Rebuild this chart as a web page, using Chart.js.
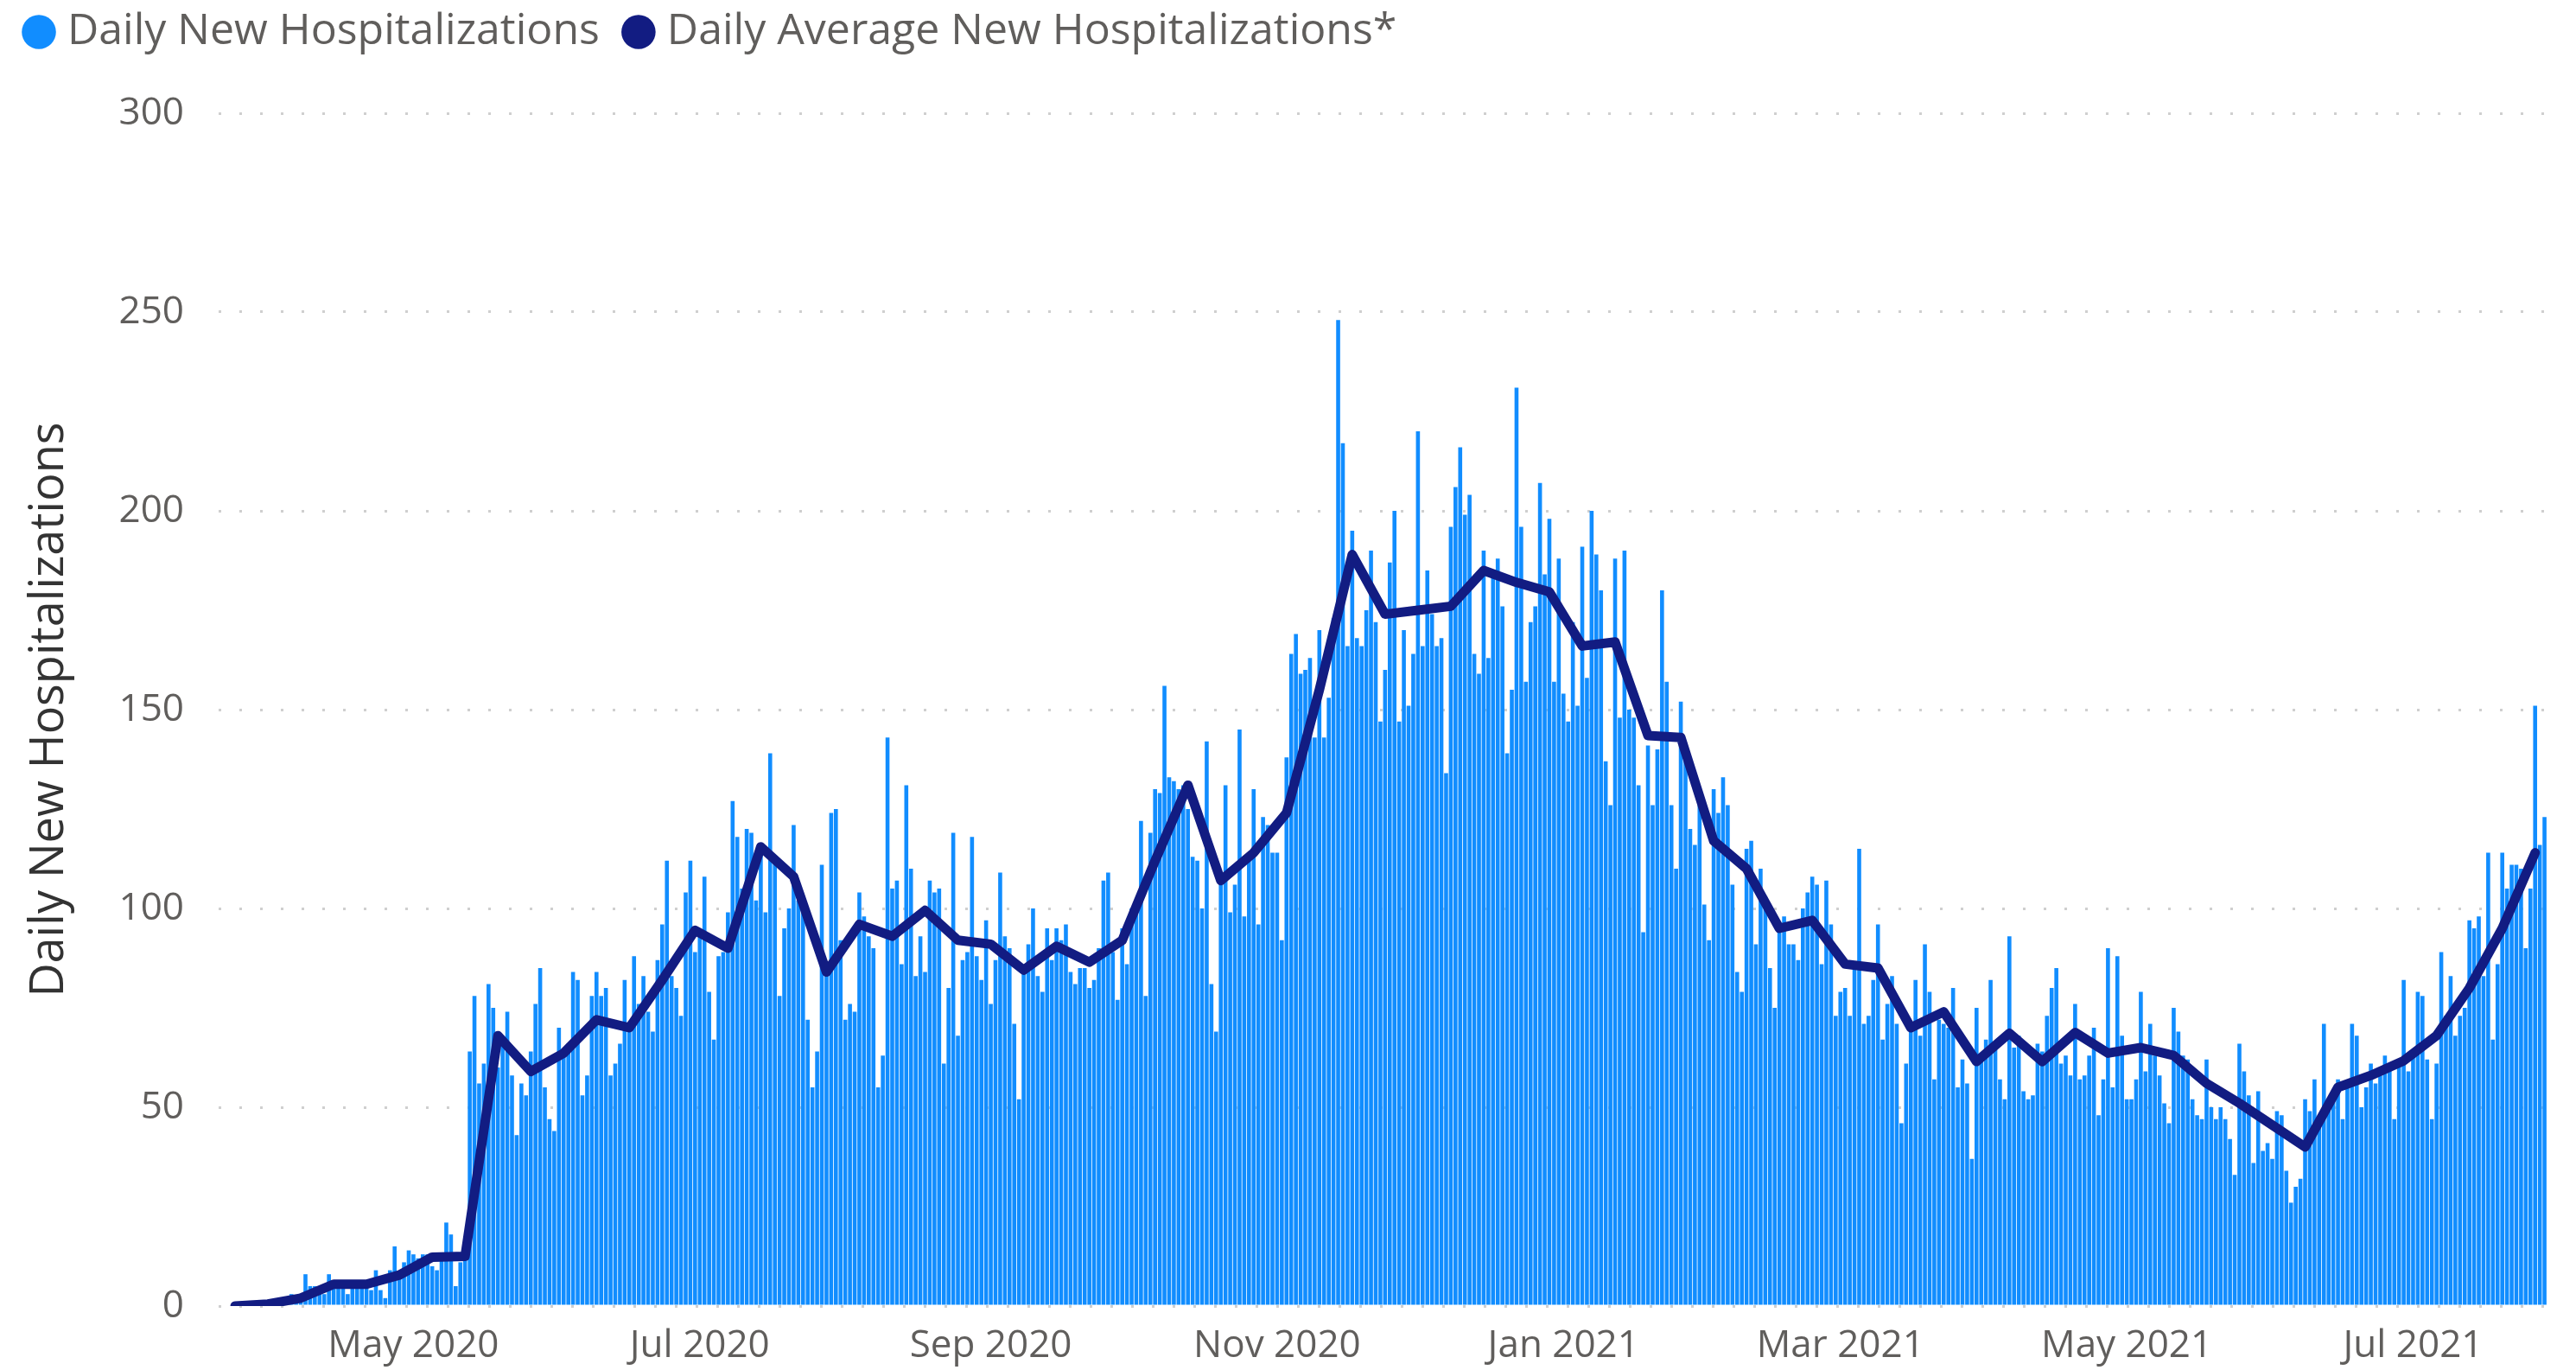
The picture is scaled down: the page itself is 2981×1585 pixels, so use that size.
<!DOCTYPE html>
<html lang="en">
<head>
  <meta charset="UTF-8">
  <title>Daily New Hospitalizations</title>
  <script src="https://cdn.jsdelivr.net/npm/chart.js"></script>
  <style>
    body { margin: 0; background: #fff; }
  </style>
</head>
<body>
  <canvas id="hospChart" width="2981" height="1585"></canvas>

  <script>
    // first day on the chart
    const startDate = '2020-03-24';

    // daily new hospitalizations, one value per day from startDate
    const dailyNew = [
      0, 0, 0, 0, 0, 0, 1,
      1, 0, 1, 0, 1, 3, 2,
      2, 8, 5, 5, 4, 3, 8,
      6, 6, 5, 3, 5, 6, 5,
      6, 4, 9, 4, 2, 9, 15,
      8, 11, 14, 13, 12, 13, 13,
      10, 9, 13, 21, 18, 5, 11,
      12, 64, 78, 56, 61, 81, 75,
      60, 66, 74, 58, 43, 56, 53,
      64, 76, 85, 55, 47, 44, 70,
      64, 66, 84, 82, 53, 58, 78,
      84, 78, 80, 58, 61, 66, 82,
      70, 88, 76, 83, 74, 69, 87,
      96, 112, 83, 80, 73, 104, 112,
      89, 93, 108, 79, 67, 88, 89,
      99, 127, 118, 105, 120, 119, 102,
      115, 99, 139, 113, 78, 95, 100,
      121, 102, 100, 72, 55, 64, 111,
      85, 124, 125, 92, 72, 76, 74,
      104, 98, 93, 90, 55, 63, 143,
      105, 107, 86, 131, 110, 83, 93,
      84, 107, 104, 105, 61, 80, 119,
      68, 87, 89, 118, 88, 82, 97,
      76, 87, 109, 93, 90, 71, 52,
      85, 91, 100, 83, 79, 95, 87,
      95, 92, 96, 84, 81, 85, 85,
      80, 82, 90, 107, 109, 89, 77,
      95, 86, 100, 102, 122, 78, 119,
      130, 129, 156, 133, 132, 130, 131,
      125, 113, 112, 100, 142, 81, 69,
      106, 131, 99, 106, 145, 98, 114,
      130, 96, 123, 121, 114, 114, 92,
      138, 164, 169, 159, 160, 163, 143,
      170, 143, 153, 173, 248, 217, 166,
      195, 168, 166, 175, 190, 172, 147,
      160, 187, 200, 147, 170, 151, 164,
      220, 166, 185, 174, 166, 168, 134,
      196, 206, 216, 199, 204, 164, 159,
      190, 163, 184, 188, 176, 139, 155,
      231, 196, 157, 172, 176, 207, 184,
      198, 157, 188, 154, 147, 172, 151,
      191, 158, 200, 189, 180, 137, 126,
      188, 148, 190, 150, 148, 131, 94,
      141, 126, 140, 180, 157, 126, 110,
      152, 137, 120, 116, 126, 101, 92,
      130, 124, 133, 126, 106, 84, 79,
      115, 117, 91, 110, 103, 85, 75,
      95, 98, 91, 91, 87, 100, 104,
      108, 106, 86, 107, 96, 73, 79,
      80, 73, 86, 115, 71, 73, 82,
      96, 67, 76, 83, 71, 46, 61,
      71, 82, 68, 91, 79, 57, 72,
      71, 70, 80, 55, 62, 56, 37,
      75, 62, 67, 82, 66, 57, 52,
      93, 65, 68, 54, 52, 53, 66,
      64, 73, 80, 85, 61, 63, 58,
      76, 57, 58, 63, 70, 48, 57,
      90, 55, 88, 68, 52, 52, 57,
      79, 59, 71, 63, 58, 51, 46,
      75, 69, 63, 62, 52, 48, 47,
      62, 50, 47, 50, 47, 42, 33,
      66, 59, 53, 36, 54, 39, 41,
      37, 49, 48, 34, 26, 30, 32,
      52, 49, 57, 47, 71, 50, 52,
      57, 47, 55, 71, 68, 50, 55,
      61, 56, 58, 63, 60, 47, 61,
      82, 59, 63, 79, 78, 62, 47,
      61, 89, 73, 83, 68, 73, 75,
      97, 95, 98, 83, 114, 67, 86,
      114, 105, 111, 111, 110, 90, 105,
      151, 116, 123
    ];

    // average line, one point every 7 days from startDate
    const averageStep = 7;
    const weeklyAverage = [
      0, 0.5, 2, 5.5, 5.5, 7.8, 12.3, 12.5, 68, 59,
      63.6, 72, 70, 82, 94.5, 90, 115.5, 108, 84, 96,
      93, 99.5, 92, 91, 84.5, 90.5, 86.5, 92, 112, 131,
      107, 114, 124, 155, 189, 174, 175, 176, 185, 182,
      179.6, 166, 167, 143.5, 143, 117, 110, 95, 97, 86,
      85, 70, 74, 61.5, 68.6, 61.5, 68.8, 63.6, 65, 63,
      56, 51, 45.5, 40, 55, 58, 61.7, 68, 80, 95,
      114
    ];

    // x axis labels
    const monthTickDates = ['2020-05-01', '2020-07-01', '2020-09-01', '2020-11-01',
                            '2021-01-01', '2021-03-01', '2021-05-01', '2021-07-01'];
    const monthTickLabels = ['May 2020', 'Jul 2020', 'Sep 2020', 'Nov 2020',
                             'Jan 2021', 'Mar 2021', 'May 2021', 'Jul 2021'];

    const yTicks = [0, 50, 100, 150, 200, 250, 300];

    function dayIndex(dateStr) {
      return Math.round((Date.parse(dateStr) - Date.parse(startDate)) / 86400000);
    }
    const tickDays = monthTickDates.map(dayIndex);

    const barColor = '#118DFF';
    const lineColor = '#121C82';
    const textColor = '#605E5C';

    Chart.defaults.font.family = "'Open Sans', sans-serif";

    // extra room under the legend
    const legendSpace = {
      id: 'legendSpace',
      beforeInit(chart) {
        const fit = chart.legend.fit;
        chart.legend.fit = function () {
          fit.call(this);
          this.height += 59;
        };
      }
    };

    let ctx = document.getElementById('hospChart').getContext('2d');

    new Chart(ctx, {
      type: 'bar',
      data: {
        datasets: [
          {
            label: 'Daily New Hospitalizations',
            data: dailyNew.map((v, i) => ({ x: i, y: v })),
            backgroundColor: barColor,
            borderWidth: 0,
            barPercentage: 0.85,
            categoryPercentage: 1,
            order: 1
          },
          {
            type: 'line',
            label: 'Daily Average New Hospitalizations*',
            data: weeklyAverage.map((v, i) => ({ x: i * averageStep, y: v })),
            borderColor: lineColor,
            backgroundColor: lineColor,
            borderWidth: 11,
            borderCapStyle: 'round',
            borderJoinStyle: 'round',
            pointRadius: 0,
            tension: 0,
            order: 0
          }
        ]
      },
      options: {
        responsive: false,
        animation: false,
        devicePixelRatio: 1,
        layout: { padding: { top: -25, right: 31, bottom: 0, left: 0 } },
        plugins: {
          tooltip: { enabled: false },
          legend: {
            position: 'top',
            align: 'start',
            labels: {
              usePointStyle: true,
              boxWidth: 16,
              boxHeight: 28,
              padding: 37,
              color: textColor,
              font: { size: 50 },
              sort: (a, b) => a.datasetIndex - b.datasetIndex,
              generateLabels: chart => chart.data.datasets.map((ds, i) => ({
                text: ds.label,
                fillStyle: ds.backgroundColor,
                strokeStyle: ds.backgroundColor,
                lineWidth: 0,
                pointStyle: 'circle',
                datasetIndex: i,
                fontColor: textColor
              }))
            }
          }
        },
        scales: {
          x: {
            type: 'linear',
            offset: false,
            min: -3.5,
            max: 493,
            grid: { display: false, drawTicks: false },
            border: { display: false },
            afterBuildTicks: scale => {
              scale.ticks = tickDays.map(d => ({ value: d }));
            },
            afterFit: scale => { scale.height = 74; },
            ticks: {
              autoSkip: false,
              maxRotation: 0,
              padding: 20,
              color: textColor,
              font: { size: 44 },
              callback: (value, index) => monthTickLabels[index]
            }
          },
          y: {
            min: 0,
            max: 300,
            afterBuildTicks: scale => {
              scale.ticks = yTicks.map(v => ({ value: v }));
            },
            afterFit: scale => { scale.width = 253; },
            grid: { color: '#cfcfcf', lineWidth: 3, drawTicks: false },
            border: { display: false, dash: [3, 21] },
            ticks: {
              padding: 40,
              color: textColor,
              font: { size: 44 }
            },
            title: {
              display: true,
              text: 'Daily New Hospitalizations',
              color: '#333333',
              font: { size: 54 },
              padding: { top: 25, bottom: 0 }
            }
          }
        }
      },
      plugins: [legendSpace]
    });
  </script>
</body>
</html>
